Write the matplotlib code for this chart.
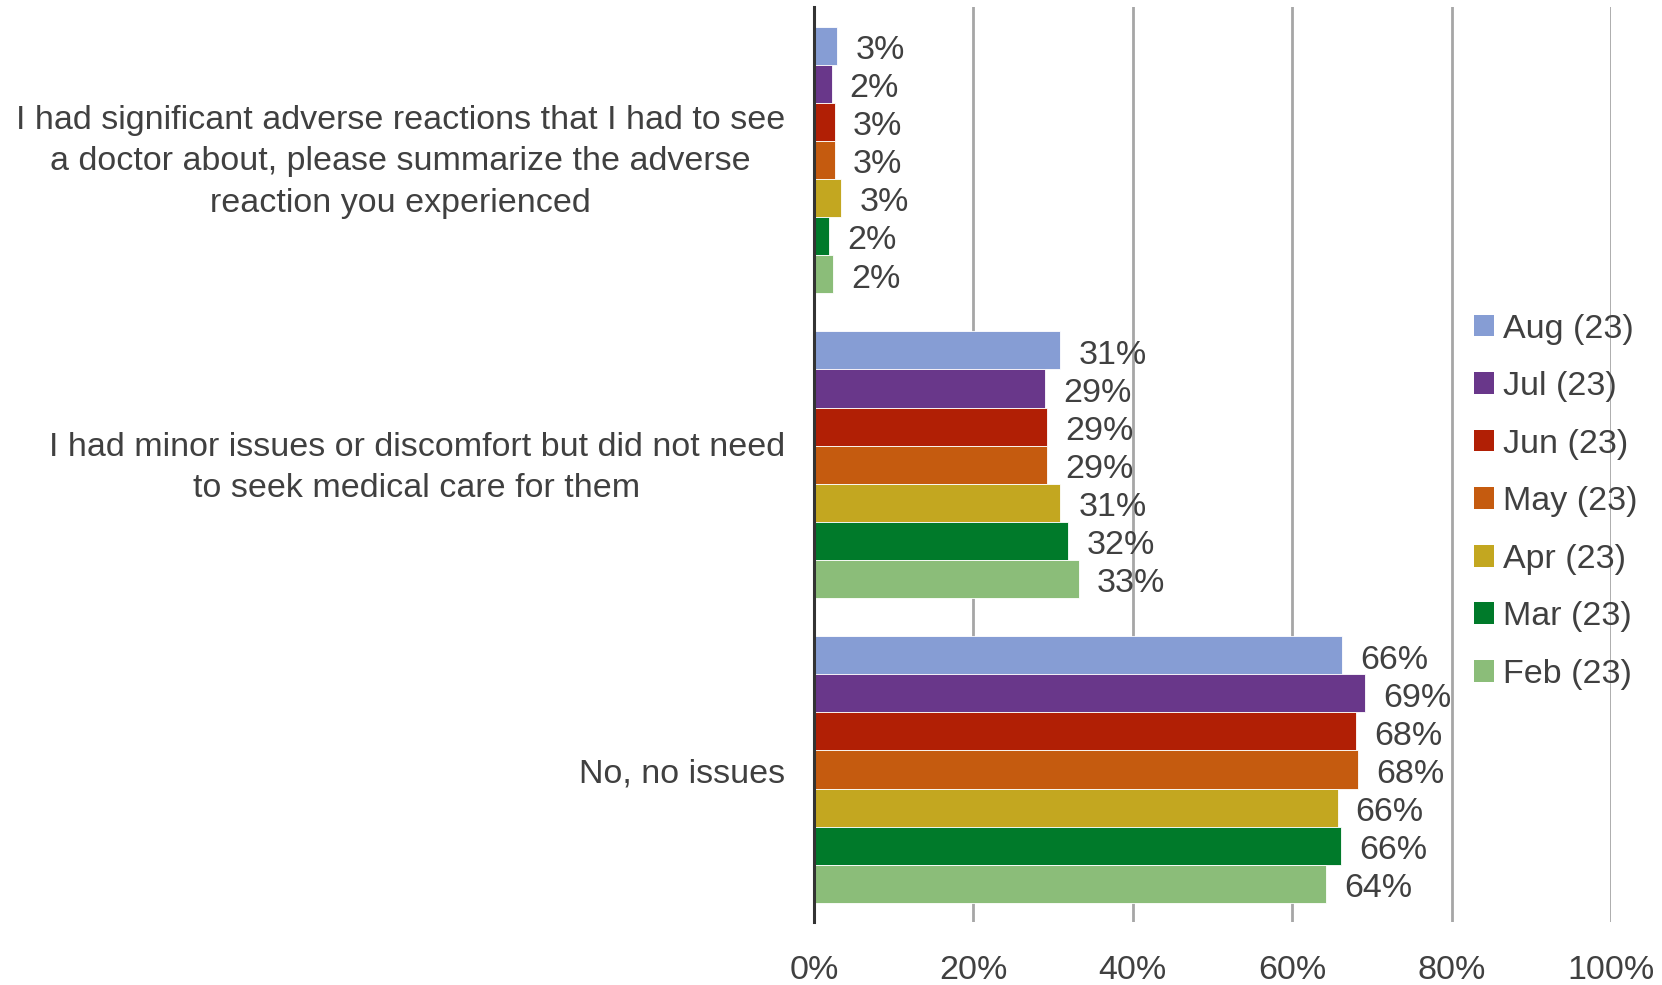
import numpy as np
import matplotlib
matplotlib.use("Agg")
import matplotlib.pyplot as plt
from matplotlib.patches import Patch

plt.rcParams["font.family"] = ["Liberation Sans", "DejaVu Sans"]

# Data (percent of respondents)
categories = [
    "I had significant adverse reactions that I had to see\n"
    "a doctor about, please summarize the adverse\n"
    "reaction you experienced",
    "I had minor issues or discomfort but did not need\n"
    "to seek medical care for them",
    "No, no issues",
]
months = ["Aug (23)", "Jul (23)", "Jun (23)", "May (23)",
          "Apr (23)", "Mar (23)", "Feb (23)"]
aug = [2.9, 30.9, 66.3]
jul = [2.2, 29.0, 69.1]
jun = [2.6, 29.2, 68.0]
may = [2.6, 29.2, 68.3]
apr = [3.4, 30.9, 65.7]
mar = [1.9, 31.9, 66.1]
feb = [2.4, 33.2, 64.3]
series = [aug, jul, jun, may, apr, mar, feb]
colors = ["#869DD4", "#69378A", "#B11F05", "#C55B0F",
          "#C3A720", "#007A2A", "#8BBD79"]
xticks = [0, 20, 40, 60, 80, 100]

TEXT = "#404040"
FS = 24.5

fig = plt.figure(figsize=(16.62, 9.85), dpi=100)
ax = fig.add_axes([0.4898, 0.064, 0.4795, 0.9284])

y = np.arange(len(categories))
h = 0.125
for i, (vals, c) in enumerate(zip(series, colors)):
    ypos = y + (i - 3) * h
    ax.barh(ypos, vals, height=h, color=c, edgecolor="white",
            linewidth=0.6, zorder=2)
    for yy, v in zip(ypos, vals):
        ax.annotate(f"{v:.0f}%", (v, yy), xytext=(13, -3.5),
                    textcoords="offset points", ha="left", va="center",
                    fontsize=FS, color=TEXT)

ax.set_ylim(-0.5, 2.5)
ax.invert_yaxis()
ax.set_xlim(0, 100)
ax.set_xticks(xticks)
ax.set_xticklabels([f"{t}%" for t in xticks])
ax.set_yticks(y)
ax.set_yticklabels([])

# category labels: right-aligned block, centred lines
for yy, lab in zip(y, categories):
    nlines = lab.count("\n")
    ax.annotate(lab, xy=(0, yy), xycoords=("axes fraction", "data"),
                xytext=(-21, -3 + 0.75 * nlines), textcoords="offset points",
                ha="right", va="center", multialignment="center",
                linespacing=1.42, fontsize=FS, color=TEXT)

ax.tick_params(axis="x", length=0, pad=24, labelsize=FS, labelcolor=TEXT)
ax.tick_params(axis="y", length=0)

ax.grid(axis="x", color="#A6A6A6", linewidth=2, zorder=0)
ax.set_axisbelow(True)
for s in ["top", "right", "bottom"]:
    ax.spines[s].set_visible(False)
ax.spines["left"].set_color("#333333")
ax.spines["left"].set_linewidth(2.2)
ax.spines["left"].set_zorder(3)

handles = [Patch(facecolor=c, edgecolor="none") for c in colors]
fig.legend(handles, months, loc="center left",
           bbox_to_anchor=(0.8868, 0.4907), frameon=False,
           fontsize=FS, labelcolor=TEXT, handlelength=0.6,
           handleheight=0.6, handletextpad=0.25, labelspacing=0.78,
           borderpad=0, borderaxespad=0)

fig.savefig("out.png", dpi=100)
